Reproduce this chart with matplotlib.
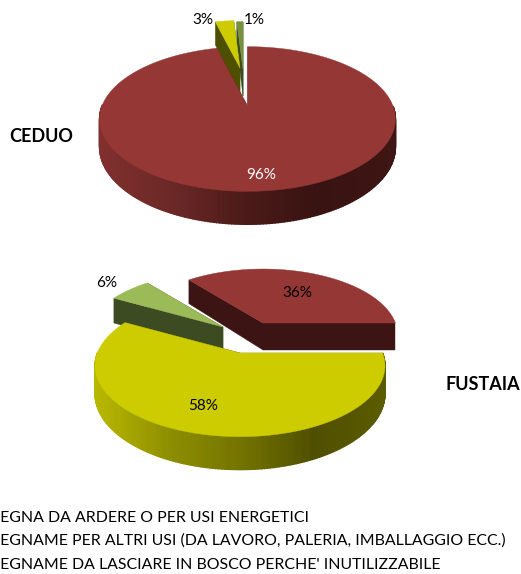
"""3D exploded pies, ceduo / fustaia"""
import numpy as np
import matplotlib
matplotlib.use('Agg')
import matplotlib.pyplot as plt
from matplotlib.colors import to_rgb
from matplotlib.patches import Polygon

# ─── Data ─────────────────────────────────────────
CEDUO_VALUES   = [96, 3, 1]
CEDUO_LABELS   = ['96%', '3%', '1%']
FUSTAIA_VALUES = [36, 58, 6]
FUSTAIA_LABELS = ['36%', '58%', '6%']
LEGEND_LINES = [
    "LEGNA DA ARDERE O PER USI ENERGETICI",
    "LEGNAME PER ALTRI USI (DA LAVORO, PALERIA, IMBALLAGGIO ECC.)",
    "LEGNAME DA LASCIARE IN BOSCO PERCHE' INUTILIZZABILE",
]
# ──────────────────────────────────────────────────

FONT = 'Lato'
R, RY, PERSP, DEPTH = 145.5, 70, 0.18, 27

BROWN  = dict(top='#953735', side='#3c1414', rim=['#80302e', '#6a2826', '#4a1a18', '#381311', '#3e1614'])
YELLOW = dict(top='#cccc00', side='#4f4f00', rim=['#b8b800', '#8f8f00', '#737300', '#4f4f00', '#5c5c00'])
GREEN  = dict(top='#9bbb59', side='#3d4b23', rim=['#6f8a3c', '#5a7030', '#46572a', '#3d4b23', '#3d4b23'])
DKGREEN = dict(GREEN, top='#76923c')


def project(ax0, ay0, scale, theta):
    # theta clockwise from north, nearer points get bigger
    u, v = np.sin(theta), -np.cos(theta)
    s = 1 / (1 - PERSP * v)
    return ax0 + R * scale * u * s, ay0 + RY * scale * v * s, DEPTH * s


def draw_wedge(ax, apex, scale, a0, a1, style, left, zorder):
    # a0, a1 in degrees clockwise from north
    th = np.radians(np.arange(a0, a1, 1.0).tolist() + [a1])
    x, y, d = project(apex[0], apex[1], scale, th)

    # radial cut faces
    for i in (0, -1):
        quad = [(apex[0], apex[1]), (x[i], y[i]), (x[i], y[i] + d[i]), (apex[0], apex[1] + DEPTH)]
        ax.add_patch(Polygon(quad, closed=True, fc=style['side'], ec=style['side'], lw=0.3, zorder=zorder))

    # outer rim, only the part facing us, shaded left to right
    stops = np.array([to_rgb(c) for c in style['rim']])
    pos = np.linspace(0, 1, len(stops))
    for i in range(len(th) - 1):
        if -np.cos(th[i]) < 0 and -np.cos(th[i + 1]) < 0:
            continue
        t = (0.5 * (x[i] + x[i + 1]) - left) / (2 * R)
        col = [np.interp(t, pos, stops[:, k]) for k in range(3)]
        quad = [(x[i], y[i]), (x[i + 1], y[i + 1]), (x[i + 1], y[i + 1] + d[i + 1]), (x[i], y[i] + d[i])]
        ax.add_patch(Polygon(quad, closed=True, fc=col, ec=col, lw=1.0, zorder=zorder))

    # top face
    top = [(apex[0], apex[1])] + list(zip(x, y))
    ax.add_patch(Polygon(top, closed=True, fc=style['top'], ec=style['top'], lw=0.3, zorder=zorder + 0.5))


def draw_pie(ax, values, start, styles, apexes, scales, order, left):
    bounds = start + np.concatenate([[0], np.cumsum(values)]) * 3.6
    for z, i in enumerate(order):
        draw_wedge(ax, apexes[i], scales[i], bounds[i], bounds[i + 1], styles[i], left, z + 1)


fig = plt.figure(figsize=(5.21, 5.74), dpi=100, facecolor='white')
ax = fig.add_axes([0, 0, 1, 1])
ax.set_xlim(0, 521)
ax.set_ylim(574, 0)
ax.axis('off')

# ── Ceduo ──
draw_pie(ax, CEDUO_VALUES, 0, [BROWN, YELLOW, DKGREEN],
         apexes=[(247.5, 106), (240, 68), (243, 69)], scales=[1.0, 0.8, 0.8],
         order=[2, 1, 0], left=101)
ceduo_pos = [(261, 175), (203, 20), (254, 20)]
ceduo_col = ['white', 'black', 'black']
for lab, p, c in zip(CEDUO_LABELS, ceduo_pos, ceduo_col):
    ax.text(p[0], p[1], lab, color=c, fontsize=11, family=FONT, ha='center', va='center', zorder=10)

# ── Fustaia ──
draw_pie(ax, FUSTAIA_VALUES, -39.6, [BROWN, YELLOW, GREEN],
         apexes=[(263, 323), (240, 353), (223, 327)], scales=[0.91, 0.98, 0.93],
         order=[0, 2, 1], left=95)
fustaia_pos = [(297, 293), (203, 406), (107, 283)]
for lab, p in zip(FUSTAIA_LABELS, fustaia_pos):
    ax.text(p[0], p[1], lab, color='black', fontsize=11, family=FONT, ha='center', va='center', zorder=10)

ax.text(41.5, 136, 'CEDUO', fontsize=13, fontweight='bold', family=FONT, ha='center', va='center')
ax.text(482.5, 384, 'FUSTAIA', fontsize=13, fontweight='bold', family=FONT, ha='center', va='center')

# ── Legend text, runs off the left edge ──
for line, y in zip(LEGEND_LINES, [518, 541, 565]):
    ax.text(-8, y, line, fontsize=11.45, family=FONT, ha='left', va='center', clip_on=False)

plt.savefig('out.png', dpi=100, facecolor='white')
plt.close()
